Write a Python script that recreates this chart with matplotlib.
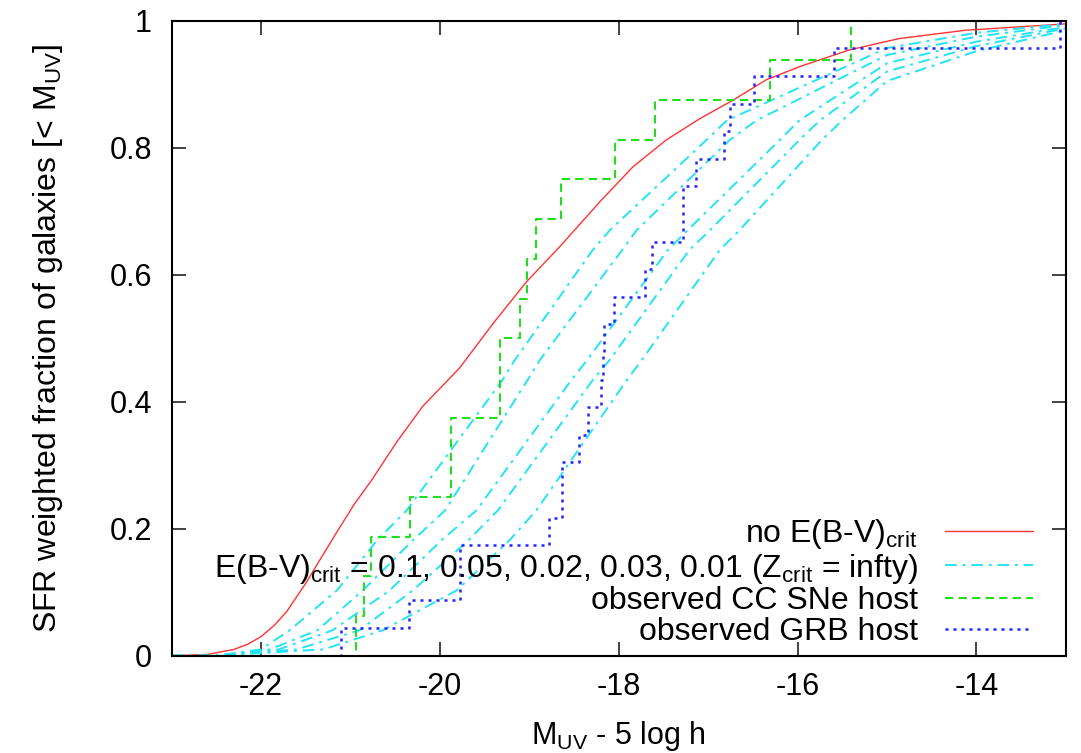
import matplotlib
matplotlib.use("Agg")
import matplotlib.pyplot as plt
import numpy as np

plt.rcParams['font.family'] = ['Liberation Sans', 'DejaVu Sans']
plt.rcParams['mathtext.fontset'] = 'custom'
plt.rcParams['mathtext.rm'] = 'Liberation Sans'
plt.rcParams['mathtext.it'] = 'Liberation Sans:italic'
plt.rcParams['axes.unicode_minus'] = False

# no E(B-V)crit model
red_x = [-23.0, -22.6, -22.3, -22.15, -22.0, -21.85, -21.71, -21.49, -21.38, -21.15,
         -20.96, -20.76, -20.48, -20.19, -19.78, -19.40, -19.03, -18.66, -18.21, -17.84,
         -17.47, -17.09, -16.72, -16.35, -15.97, -15.42, -14.86, -14.12, -13.0]
red_y = [0.0, 0.002, 0.010, 0.018, 0.030, 0.048, 0.070, 0.116, 0.142, 0.195,
         0.238, 0.277, 0.337, 0.393, 0.453, 0.524, 0.589, 0.644, 0.715, 0.770,
         0.812, 0.846, 0.875, 0.907, 0.928, 0.954, 0.972, 0.985, 0.995]

# E(B-V)crit = 0.1, 0.05, 0.02, 0.03, 0.01 curves
cyan_y = [0.0, 0.010, 0.040, 0.103, 0.182, 0.229, 0.434, 0.466, 0.639, 0.670, 0.812, 0.843]
cyan_x = [
    [-22.5, -22.0, -21.68, -21.15, -20.70, -20.37, -19.30, -19.16, -18.29, -18.10, -17.02, -16.79],
    [-22.5, -21.9, -21.37, -20.86, -20.30, -19.94, -19.02, -18.88, -17.96, -17.80, -16.76, -16.46],
    [-22.5, -21.8, -21.20, -20.56, -19.98, -19.59, -18.53, -18.35, -17.45, -17.23, -16.20, -15.98],
    [-22.5, -21.6, -20.90, -20.30, -19.68, -19.35, -18.29, -18.10, -17.21, -16.98, -15.98, -15.75],
    [-22.5, -21.3, -20.64, -19.81, -19.22, -18.92, -17.91, -17.74, -16.87, -16.65, -15.73, -15.50],
]
cyan_tail_x = [-15.0, -14.0, -13.0]
cyan_tail_y = [
    [0.957, 0.981, 0.995],
    [0.946, 0.975, 0.993],
    [0.933, 0.967, 0.990],
    [0.920, 0.960, 0.988],
    [0.905, 0.952, 0.985],
]

# observed CC SNe host (16 objects)
sn_x = [-23.0, -20.94, -20.85, -20.77, -20.33, -19.87, -19.33, -19.10, -19.02,
        -18.92, -18.65, -18.04, -17.59, -16.31, -15.40, -13.0]
sn_n = [0, 1, 2, 3, 4, 6, 8, 9, 10, 11, 12, 13, 14, 15, 16, 16]

# observed GRB host (23 objects)
grb_x = [-23.0, -21.11, -20.34, -19.77, -18.78, -18.63, -18.44, -18.34, -18.20,
         -18.18, -18.16, -18.05, -17.71, -17.63, -17.28, -17.14, -16.82, -16.76,
         -16.49, -15.59, -13.07, -13.0]
grb_n = [0, 1, 2, 4, 5, 7, 8, 9, 10, 11, 12, 13, 14, 15, 17, 18, 19, 20,
         21, 22, 23, 23]

fig = plt.figure(figsize=(10.81, 7.53), dpi=100)
ax = fig.add_axes([0.1587, 0.1292, 0.8273, 0.8433])

ax.plot(red_x, red_y, color='#ff3333', lw=1.0, label=r'no E(B-V)$_{\rm crit}$')
for i in range(5):
    xs = cyan_x[i] + cyan_tail_x
    ys = cyan_y + cyan_tail_y[i]
    ax.plot([-23.0] + xs, [0.0] + ys, color='#22e4f4', lw=1.4,
            dashes=(6, 3, 1.5, 3),
            label=r'E(B-V)$_{\rm crit}$ = 0.1, 0.05, 0.02, 0.03, 0.01 (Z$_{\rm crit}$ = infty)' if i == 0 else None)

ax.step(sn_x, np.array(sn_n) / 16.0, where='post', color='#22dd22', lw=1.5,
        dashes=(4, 2.5), label='observed CC SNe host')
ax.step(grb_x, np.array(grb_n) / 23.0, where='post', color='#2222ff', lw=1.8,
        dashes=(1.2, 2.0), label='observed GRB host')

ax.set_xlim(-23, -13)
ax.set_ylim(0, 1)
ax.set_xticks([-22, -20, -18, -16, -14])
ax.set_yticks([0, 0.2, 0.4, 0.6, 0.8, 1.0])
ax.set_yticklabels(['0', '0.2', '0.4', '0.6', '0.8', '1'])
ax.tick_params(direction='in', length=10, width=1.2, labelsize=22, pad=14,
               top=True, right=True, colors='#222222', labelcolor='black')
ax.tick_params(axis='x', pad=12)
for s in ax.spines.values():
    s.set_linewidth(1.5)

ax.set_xlabel(r'M$_{\rm UV}$ - 5 log h', fontsize=22, labelpad=12)
ax.set_ylabel(r'SFR weighted fraction of galaxies [< M$_{\rm UV}$]', fontsize=23, labelpad=32)

leg = ax.legend(loc='lower right', bbox_to_anchor=(0.963, 0.014), frameon=False,
                fontsize=23, markerfirst=False, handlelength=2.75, handletextpad=0.85,
                labelspacing=0.02, borderpad=0, borderaxespad=0)
leg._legend_box.align = 'right'

fig.savefig('out.png', dpi=100)
